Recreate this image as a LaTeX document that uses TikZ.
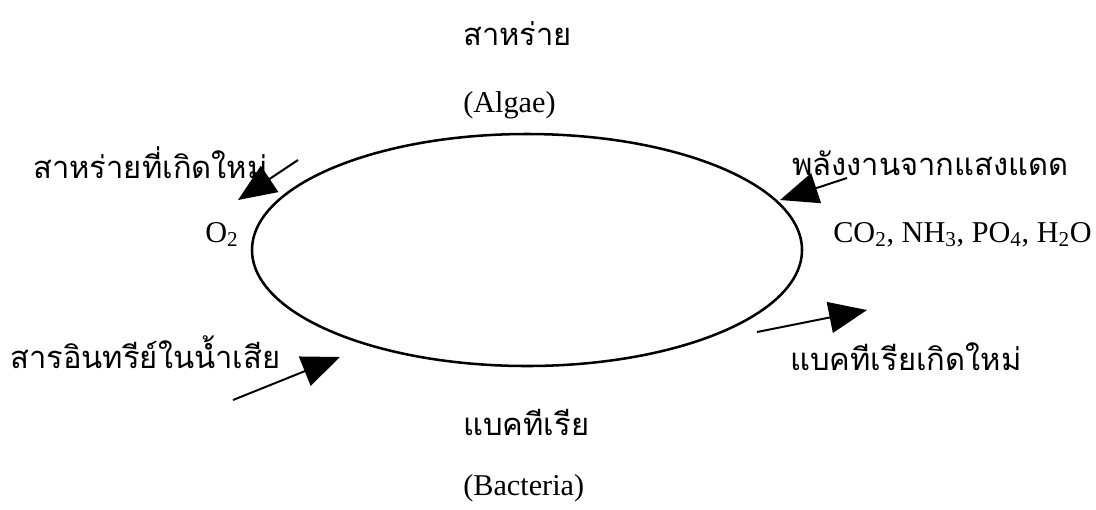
\documentclass[tikz,border=0pt]{standalone}
\usepackage{fontspec}
\setmainfont{Liberation Serif}
\newfontfamily\thaifont[Script=Thai]{Loma}
\usetikzlibrary{arrows.meta}
\tikzset{
  thai/.style={font=\thaifont\fontsize{22}{24}\selectfont, anchor=base west, inner sep=0pt},
  latin/.style={font=\fontsize{21.5}{24}\selectfont, anchor=base west, inner sep=0pt},
  flow/.style={line width=1.4pt, -{Triangle[length=0.95cm,width=0.78cm]}}
}
\begin{document}
\begin{tikzpicture}[x=0.025cm,y=-0.025cm]
  \useasboundingbox (0,0) rectangle (1096,509);

  % the cycle
  \draw[line width=1.8pt] (527,250) ellipse (275 and 116);

  % algae on top, bacteria below
  \node[thai] (algae) at (463,45) {สาหร่าย};
  \node[latin] (algaeen) at (463,112) {(Algae)};
  \node[thai] (bact) at (463,435) {แบคทีเรีย};
  \node[latin] (bacten) at (463,495) {(Bacteria)};

  % side labels
  \node[thai] (newalgae) at (33,178) {สาหร่ายที่เกิดใหม่};
  \node[thai] (sun) at (792,175) {พลังงานจากแสงแดด};
  \node[latin] (oxy) at (205,242) {O\textsubscript{2}};
  \node[latin] (nutr) at (833,242) {CO\textsubscript{2}, NH\textsubscript{3}, PO\textsubscript{4}, H\textsubscript{2}O};
  \node[thai] (waste) at (10,368) {สารอินทรีย์ในน้ำเสีย};
  \node[thai] (newbact) at (790,370) {แบคทีเรียเกิดใหม่};

  % arrows
  \coordinate (a1s) at (298,160);
  \coordinate (a1e) at (238,200);
  \coordinate (a2s) at (847,178);
  \coordinate (a2e) at (780,200);
  \coordinate (a3s) at (233,400);
  \coordinate (a3e) at (340,357);
  \coordinate (a4s) at (757,332);
  \coordinate (a4e) at (867,310);
  \draw[flow] (a1s) -- (a1e);
  \draw[flow] (a2s) -- (a2e);
  \draw[flow] (a3s) -- (a3e);
  \draw[flow] (a4s) -- (a4e);
\end{tikzpicture}
\end{document}
